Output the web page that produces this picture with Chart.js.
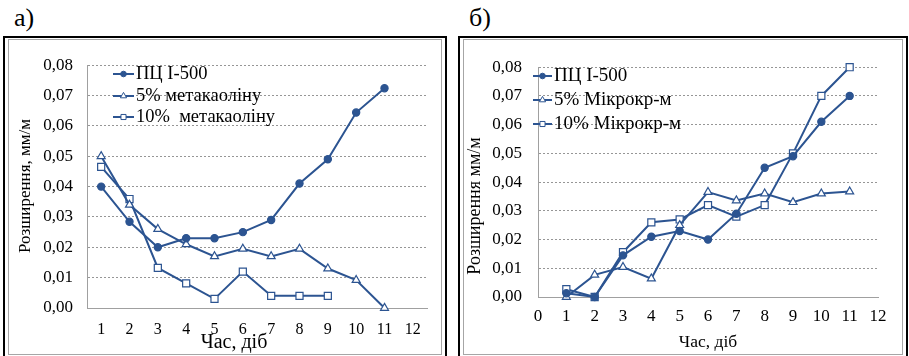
<!DOCTYPE html>
<html>
<head>
<meta charset="utf-8">
<script src="https://cdn.jsdelivr.net/npm/chart.js@4/dist/chart.umd.min.js"></script>
<style>
  html, body { margin: 0; padding: 0; background: #fff; }
  body { width: 909px; height: 356px; position: relative; overflow: hidden; }
  .outer { position: absolute; border: 2px solid #000; box-sizing: border-box; }
  .inner { position: absolute; border: 1px solid #a6a6a6; box-sizing: border-box; }
  .lbl { position: absolute; font-family: 'Liberation Serif'; font-size: 26px; line-height: 26px; color: #000; }
  canvas { position: absolute; }
</style>
</head>
<body>
<div class="lbl" style="left:14px; top:5px;">а)</div>
<div class="lbl" style="left:469px; top:5px;">б)</div>

<div class="outer" style="left:3px; top:36px; width:444px; height:330px;"></div>
<div class="inner" style="left:8px; top:39px; width:434px; height:316px;"></div>
<div class="outer" style="left:458px; top:36px; width:450px; height:330px;"></div>
<div class="inner" style="left:463px; top:39px; width:440px; height:316px;"></div>

<canvas id="cA" width="431" height="313" style="left:9px; top:41px;"></canvas>
<canvas id="cB" width="437" height="313" style="left:464px; top:41px;"></canvas>

<script>
// ---------- Data: chart а) ----------
const daysA = ['1','2','3','4','5','6','7','8','9','10','11','12'];
const pcA   = [0.040, 0.0284, 0.020, 0.023, 0.023, 0.025, 0.029, 0.041, 0.049, 0.0644, 0.0724, null];
const mk5A  = [0.050, 0.034, 0.026, 0.021, 0.017, 0.0195, 0.017, 0.0195, 0.013, 0.0092, 0.000, null];
const mk10A = [0.0465, 0.0359, 0.0132, 0.0081, 0.003, 0.012, 0.004, 0.004, 0.004, null, null, null];
const labelsA = ['ПЦ I-500', '5% метакаоліну', '10%  метакаоліну'];

// ---------- Data: chart б) ----------
const daysB = [1, 2, 3, 4, 5, 6, 7, 8, 9, 10, 11];
const pcB   = [0.0013, 0.000, 0.0145, 0.021, 0.023, 0.020, 0.029, 0.045, 0.049, 0.061, 0.070];
const mc5B  = [0.000, 0.0077, 0.0104, 0.0064, 0.025, 0.0365, 0.0336, 0.036, 0.033, 0.036, 0.0367];
const mc10B = [0.0027, 0.000, 0.0156, 0.026, 0.027, 0.032, 0.028, 0.032, 0.050, 0.070, 0.080];
const labelsB = ['ПЦ I-500', '5% Мікрокр-м', '10% Мікрокр-м'];

// ---------- Axis text ----------
const yTitleA = 'Розширення, мм/м';
const yTitleB = 'Розширення мм/м';
const xTitle = 'Час, діб';

const BLUE = '#2C5491';
const SERIF = '"Liberation Serif", serif';

function styleSeries(label, data, kind) {
  const base = { label, data, borderColor: BLUE, borderWidth: 2, tension: 0, spanGaps: false, clip: false,
                 pointBorderColor: BLUE, pointBorderWidth: 1.2, pointHoverRadius: 0 };
  if (kind === 'circle') return Object.assign(base, { pointStyle: 'circle', pointRadius: 3.6, pointBackgroundColor: BLUE, backgroundColor: BLUE });
  if (kind === 'triangle') return Object.assign(base, { pointStyle: 'triangle', pointRadius: 4.6, pointBackgroundColor: '#fff', backgroundColor: '#fff' });
  return Object.assign(base, { pointStyle: 'rect', pointRadius: 5, pointBackgroundColor: '#fff', backgroundColor: '#fff' });
}

const fmt = v => Number(v).toFixed(2).replace('.', ',');

const decorPlugin = {
  id: 'decor',
  afterDraw(chart, args, opts) {
    const ctx = chart.ctx;
    (opts.texts || []).forEach(t => {
      ctx.save();
      ctx.font = t.size + 'px ' + SERIF;
      ctx.fillStyle = '#000';
      ctx.textAlign = 'center';
      ctx.textBaseline = 'middle';
      ctx.translate(t.x, t.y);
      if (t.rotate) ctx.rotate(t.rotate);
      ctx.fillText(t.text, 0, 0);
      ctx.restore();
    });
    const lg = opts.legend;
    if (lg) {
      chart.data.datasets.forEach((ds, i) => {
        const y = lg.rows[i];
        ctx.save();
        ctx.strokeStyle = ds.borderColor;
        ctx.lineWidth = 2;
        ctx.beginPath();
        ctx.moveTo(lg.x0, y); ctx.lineTo(lg.x1, y);
        ctx.stroke();
        ctx.fillStyle = ds.pointBackgroundColor;
        ctx.strokeStyle = ds.pointBorderColor;
        ctx.lineWidth = 1;
        Chart.helpers.drawPoint(ctx, { pointStyle: ds.pointStyle, rotation: 0,
          radius: ds.pointStyle === 'circle' ? 2.8 : 3.6, borderWidth: 1 }, (lg.x0 + lg.x1) / 2, y);
        ctx.fillStyle = '#000';
        ctx.font = lg.size + 'px ' + SERIF;
        ctx.textAlign = 'left';
        ctx.textBaseline = 'middle';
        ctx.fillText(ds.label, lg.tx, y);
        ctx.restore();
      });
    }
  }
};

function yScale(padding, width) {
  return {
    type: 'linear', min: 0, max: 0.08,
    ticks: { stepSize: 0.01, callback: fmt, color: '#000', padding, font: { family: SERIF, size: 17 } },
    grid: { color: '#969696', lineWidth: 1, drawTicks: false },
    border: { display: true, color: '#a0a0a0', width: 1, dash: [2, 2] },
    afterFit(s) { s.width = width; }
  };
}

// ---------- Chart а) ----------
new Chart(document.getElementById('cA'), {
  type: 'line',
  data: {
    labels: daysA,
    datasets: [
      styleSeries(labelsA[0], pcA, 'circle'),
      styleSeries(labelsA[1], mk5A, 'triangle'),
      styleSeries(labelsA[2], mk10A, 'rect')
    ]
  },
  options: {
    responsive: false, animation: false,
    layout: { padding: { left: 0, top: 18, right: 13, bottom: 0 } },
    plugins: {
      legend: { display: false }, tooltip: { enabled: false },
      decor: {
        texts: [
          { text: yTitleA, x: 17, y: 145, size: 17, rotate: -Math.PI / 2 },
          { text: xTitle, x: 225, y: 302, size: 20 }
        ],
        legend: { x0: 104, x1: 125, tx: 127, rows: [33, 55, 76], size: 18.5 }
      }
    },
    scales: {
      x: {
        type: 'category', offset: true,
        ticks: { color: '#000', padding: 12, font: { family: SERIF, size: 16 }, maxRotation: 0, autoSkip: false },
        grid: { display: false, drawTicks: false },
        border: { display: true, color: '#a0a0a0', width: 1 },
        afterFit(s) { s.height = 46; }
      },
      y: yScale(14, 78)
    }
  },
  plugins: [decorPlugin]
});

// ---------- Chart б) ----------
const pts = arr => daysB.map((d, i) => ({ x: d, y: arr[i] }));
new Chart(document.getElementById('cB'), {
  type: 'line',
  data: {
    datasets: [
      styleSeries(labelsB[0], pts(pcB), 'circle'),
      styleSeries(labelsB[1], pts(mc5B), 'triangle'),
      styleSeries(labelsB[2], pts(mc10B), 'rect')
    ]
  },
  options: {
    responsive: false, animation: false,
    layout: { padding: { left: 0, top: 12, right: 23, bottom: 0 } },
    plugins: {
      legend: { display: false }, tooltip: { enabled: false },
      decor: {
        texts: [
          { text: yTitleB, x: 11, y: 165, size: 18, rotate: -Math.PI / 2 },
          { text: xTitle, x: 244, y: 301, size: 17.5 }
        ],
        legend: { x0: 69, x1: 88, tx: 90, rows: [35, 59, 83], size: 19 }
      }
    },
    scales: {
      x: {
        type: 'linear', min: 0, max: 12,
        ticks: { stepSize: 1, color: '#000', padding: 9.5, font: { family: SERIF, size: 17 }, maxRotation: 0 },
        grid: { display: false, drawTicks: false },
        border: { display: true, color: '#a0a0a0', width: 1 },
        afterFit(s) { s.height = 57; }
      },
      y: yScale(16, 74)
    }
  },
  plugins: [decorPlugin]
});
</script>
</body>
</html>
